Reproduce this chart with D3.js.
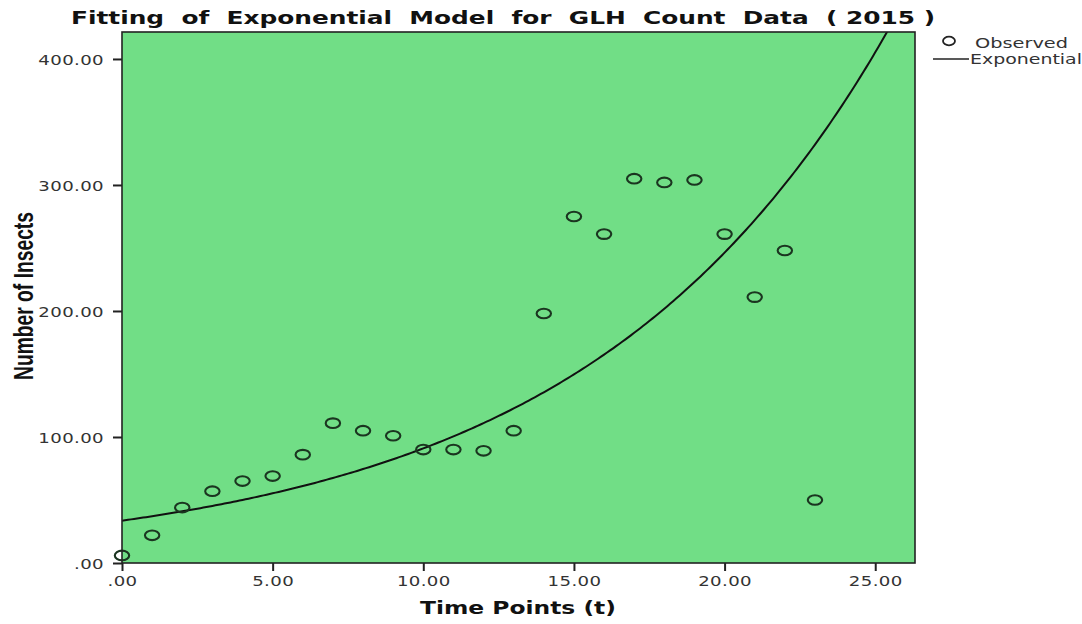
<!DOCTYPE html>
<html><head><meta charset="utf-8">
<script src="https://cdn.jsdelivr.net/npm/d3@7"></script>
<style>body{margin:0;background:#fff}svg{display:block}</style>
</head><body>
<script>
const timePoints = [0,1,2,3,4,5,6,7,8,9,10,11,12,13,14,15,16,17,18,19,20,21,22,23];
const observed = [6,22,44,57,65,69,86,111,105,101,90,90,89,105,198,275,261,305,302,304,261,211,248,50];
const modelB0 = 33.6, modelB1 = 0.0996;
const xTicks = [0,5,10,15,20,25];
const yTicks = [0,100,200,300,400];
const titleText = "Fitting  of  Exponential  Model  for  GLH  Count  Data  ( 2015 )";
const xLabel = "Time Points (t)";
const yLabel = "Number of Insects";
const legendLabels = ["Observed","Exponential"];

const W = 1082, H = 624;
const svg = d3.select("body").append("svg").attr("width", W).attr("height", H);
const L = 122, R = 915, T = 32, B = 563;
const x = d3.scaleLinear().domain([0, 26.32]).range([L, R]);
const y = d3.scaleLinear().domain([0, 421.4]).range([B, T]);

function stretch(sel, f) {
  sel.each(function() {
    const w = this.getComputedTextLength();
    d3.select(this).attr("textLength", w * f).attr("lengthAdjust", "spacingAndGlyphs");
  });
}

svg.append("rect").attr("x", L).attr("y", T).attr("width", R - L).attr("height", B - T)
  .attr("fill", "#71de86");

svg.append("clipPath").attr("id","c").append("rect")
  .attr("x", L).attr("y", T).attr("width", R - L).attr("height", B - T);

const curvePts = d3.range(0, 26.4, 0.1).map(t => [t, modelB0 * Math.exp(modelB1 * t)]);
svg.append("path").datum(curvePts).attr("clip-path","url(#c)")
  .attr("d", d3.line().x(d => x(d[0])).y(d => y(d[1])))
  .attr("fill","none").attr("stroke","#111").attr("stroke-width",2);

svg.append("g").selectAll("ellipse").data(timePoints).join("ellipse")
  .attr("cx", (d) => x(d)).attr("cy", (d,i) => y(observed[i]))
  .attr("rx", 7.2).attr("ry", 4.8)
  .attr("fill","none").attr("stroke","#1b3520").attr("stroke-width",2.1);

svg.append("rect").attr("x", L).attr("y", T).attr("width", R - L).attr("height", B - T)
  .attr("fill", "none").attr("stroke","#222").attr("stroke-width",1.6);

const fmt = d => d === 0 ? ".00" : d3.format(".2f")(d);
const xa = svg.append("g").attr("transform", `translate(0,${B})`)
  .call(d3.axisBottom(x).tickValues(xTicks).tickFormat(fmt).tickSize(8).tickSizeOuter(0).tickPadding(5));
const ya = svg.append("g").attr("transform", `translate(${L},0)`)
  .call(d3.axisLeft(y).tickValues(yTicks).tickFormat(fmt).tickSize(9).tickSizeOuter(0).tickPadding(9));
[xa, ya].forEach(a => {
  a.select(".domain").remove();
  a.selectAll(".tick line").attr("stroke","#222").attr("stroke-width",2);
  a.selectAll(".tick text").attr("fill","#333").attr("font-family","DejaVu Sans, Verdana, sans-serif")
    .attr("font-size", 14.5).attr("letter-spacing", 0.3);
  stretch(a.selectAll(".tick text"), 1.25);
});
ya.selectAll(".tick text").attr("dy","0.35em");
ya.selectAll(".tick line").attr("x2", -9);

const title = svg.append("text").attr("x", 503).attr("y", 24).attr("text-anchor","middle")
  .attr("font-family","DejaVu Sans, Verdana, sans-serif").attr("font-weight","bold")
  .attr("font-size",17).attr("fill","#111").style("white-space","pre")
  .text(titleText);
title.attr("textLength", 864).attr("lengthAdjust","spacingAndGlyphs");

svg.append("text").attr("x", 518).attr("y", 614).attr("text-anchor","middle")
  .attr("font-family","DejaVu Sans, Verdana, sans-serif").attr("font-weight","bold")
  .attr("font-size",18).attr("fill","#111").attr("textLength",196).attr("lengthAdjust","spacingAndGlyphs")
  .text(xLabel);

svg.append("text").attr("transform","translate(33,296) rotate(-90)").attr("text-anchor","middle")
  .attr("font-family","Liberation Sans, Arial, sans-serif").attr("font-weight","bold")
  .attr("font-size",27).attr("fill","#111").attr("textLength",168).attr("lengthAdjust","spacingAndGlyphs")
  .text(yLabel);

const lg = svg.append("g");
lg.append("ellipse").attr("cx", 949).attr("cy", 41).attr("rx", 6).attr("ry", 4.3)
  .attr("fill","none").attr("stroke","#222").attr("stroke-width",1.8);
lg.append("line").attr("x1", 933).attr("x2", 969).attr("y1", 59).attr("y2", 59)
  .attr("stroke","#222").attr("stroke-width",1.6);
lg.selectAll("text").data(legendLabels).join("text")
  .attr("x", (d,i) => i === 0 ? 975 : 970).attr("y", (d,i) => i === 0 ? 48 : 64)
  .attr("font-family","DejaVu Sans, Verdana, sans-serif").attr("font-size",14).attr("fill","#333")
  .attr("textLength", (d,i) => i === 0 ? 93 : 112).attr("lengthAdjust","spacingAndGlyphs")
  .text(d => d);
</script>
</body></html>
